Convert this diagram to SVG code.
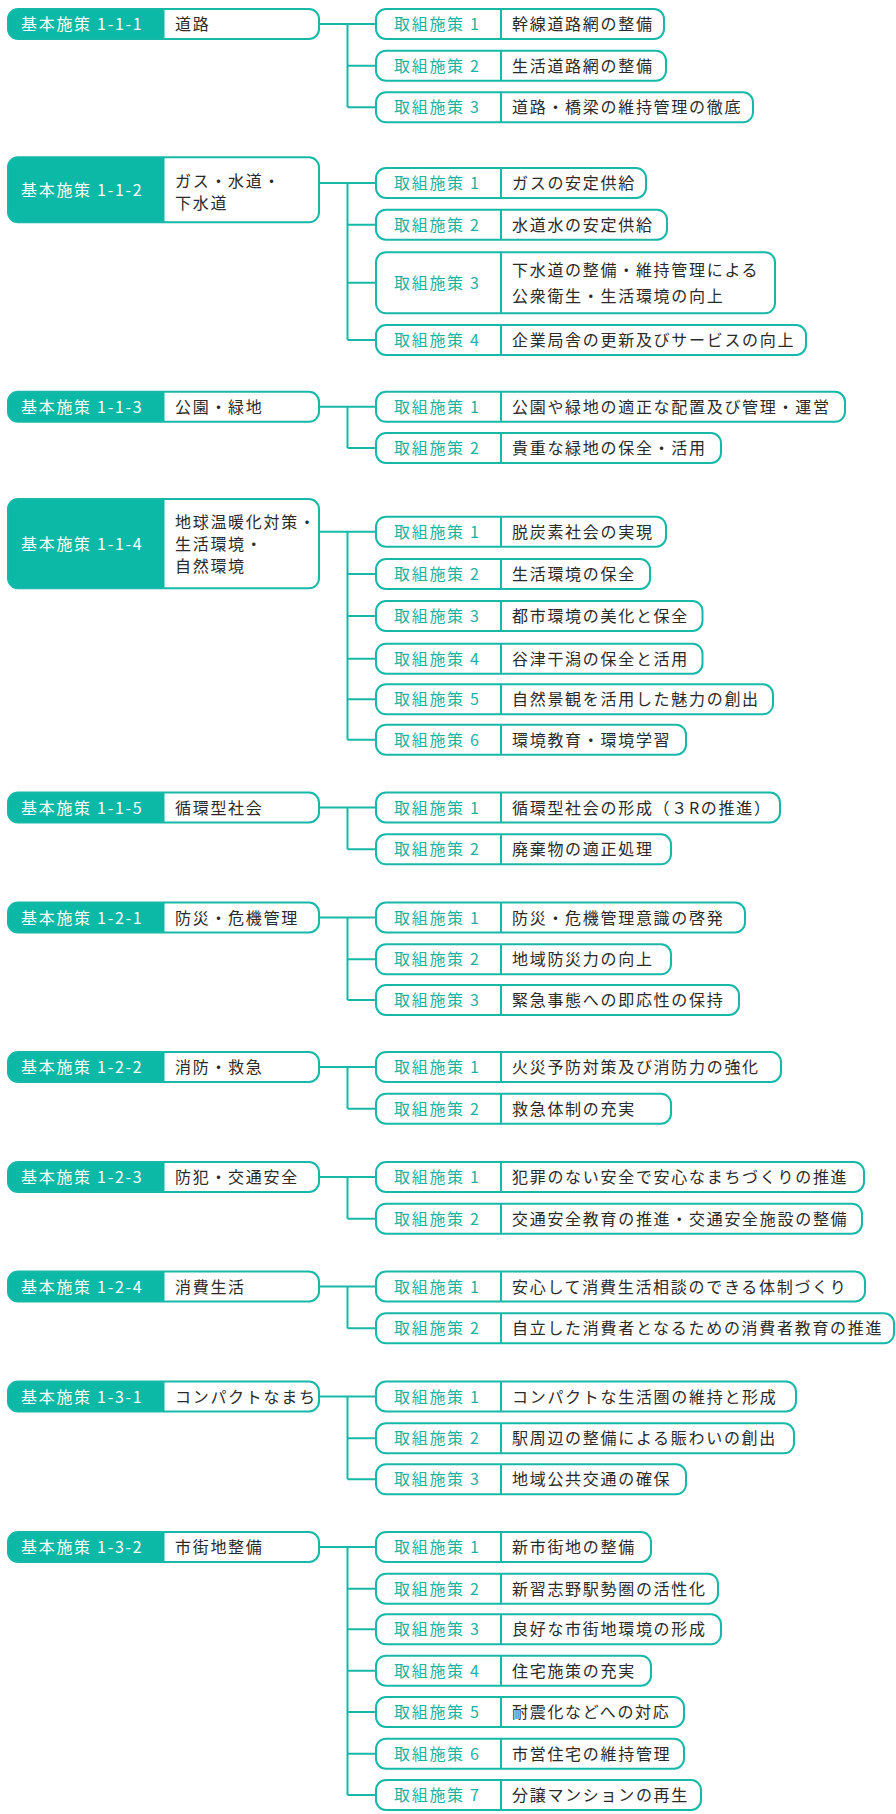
<svg xmlns="http://www.w3.org/2000/svg" width="896" height="1814" viewBox="0 0 896 1814">
<style>
text{font-family:"Noto Sans CJK JP","Noto Sans",sans-serif;font-size:16px;letter-spacing:1.7px}
.pb{fill:#fff}
.po{fill:none;stroke:#16b9a8;stroke-width:2}
.pf{fill:#0cb8a6}
.pl{fill:#fff}
.pt{fill:#2a2a2a}
.cb{fill:#fff;stroke:#16b9a8;stroke-width:2}
.dv{stroke:#16b9a8;stroke-width:2}
.cl{fill:#1ab3a3}
.ct{fill:#2a2a2a}
.cn{fill:none;stroke:#16b9a8;stroke-width:2}
</style>
<g id="connectors" class="cn">
<path d="M319,24H376M347.5,24V107.3M347.5,65.7H376M347.5,107.3H376"/>
<path d="M319,183H376M347.5,183V340M347.5,224.7H376M347.5,282.8H376M347.5,340H376"/>
<path d="M319,406.8H376M347.5,406.8V448M347.5,448H376"/>
<path d="M319,531.7H376M347.5,531.7V739.7M347.5,574H376M347.5,616H376M347.5,658.7H376M347.5,699.3H376M347.5,739.7H376"/>
<path d="M319,807.5H376M347.5,807.5V849.3M347.5,849.3H376"/>
<path d="M319,917.5H376M347.5,917.5V1000M347.5,959.3H376M347.5,1000H376"/>
<path d="M319,1067H376M347.5,1067V1108.7M347.5,1108.7H376"/>
<path d="M319,1177H376M347.5,1177V1218.7M347.5,1218.7H376"/>
<path d="M319,1286.5H376M347.5,1286.5V1328.3M347.5,1328.3H376"/>
<path d="M319,1396.5H376M347.5,1396.5V1479.3M347.5,1438.3H376M347.5,1479.3H376"/>
<path d="M319,1547H376M347.5,1547V1795M347.5,1588.7H376M347.5,1629.3H376M347.5,1670.7H376M347.5,1712H376M347.5,1753.7H376M347.5,1795H376"/>
</g>

<!-- parents -->
<g id="p-1-1-1"><rect class="pb" x="8" y="9" width="311" height="30" rx="10"/><path class="pf" d="M164.5,9H18A10,10 0 0 0 8,19V29A10,10 0 0 0 18,39H164.5Z"/><rect class="po" x="8" y="9" width="311" height="30" rx="10"/><text class="pl" x="21" y="30">基本施策 1-1-1</text><text class="pt" x="175" y="30">道路</text></g>

<g id="p-1-1-2"><rect class="pb" x="8" y="157.3" width="311" height="65" rx="10"/><path class="pf" d="M164.5,157.3H18A10,10 0 0 0 8,167.3V212.3A10,10 0 0 0 18,222.3H164.5Z"/><rect class="po" x="8" y="157.3" width="311" height="65" rx="10"/><text class="pl" x="21" y="196">基本施策 1-1-2</text><text class="pt" x="175" y="186.5">ガス・水道・</text><text class="pt" x="175" y="208.8">下水道</text></g>

<g id="p-1-1-3"><rect class="pb" x="8" y="391.8" width="311" height="30" rx="10"/><path class="pf" d="M164.5,391.8H18A10,10 0 0 0 8,401.8V411.8A10,10 0 0 0 18,421.8H164.5Z"/><rect class="po" x="8" y="391.8" width="311" height="30" rx="10"/><text class="pl" x="21" y="412.8">基本施策 1-1-3</text><text class="pt" x="175" y="412.8">公園・緑地</text></g>

<g id="p-1-1-4"><rect class="pb" x="8" y="499" width="311" height="89.3" rx="10"/><path class="pf" d="M164.5,499H18A10,10 0 0 0 8,509V578.3A10,10 0 0 0 18,588.3H164.5Z"/><rect class="po" x="8" y="499" width="311" height="89.3" rx="10"/><text class="pl" x="21" y="550">基本施策 1-1-4</text><text class="pt" x="175" y="527.7">地球温暖化対策・</text><text class="pt" x="175" y="550">生活環境・</text><text class="pt" x="175" y="572">自然環境</text></g>

<g id="p-1-1-5"><rect class="pb" x="8" y="792.5" width="311" height="30" rx="10"/><path class="pf" d="M164.5,792.5H18A10,10 0 0 0 8,802.5V812.5A10,10 0 0 0 18,822.5H164.5Z"/><rect class="po" x="8" y="792.5" width="311" height="30" rx="10"/><text class="pl" x="21" y="813.5">基本施策 1-1-5</text><text class="pt" x="175" y="813.5">循環型社会</text></g>

<g id="p-1-2-1"><rect class="pb" x="8" y="902.5" width="311" height="30" rx="10"/><path class="pf" d="M164.5,902.5H18A10,10 0 0 0 8,912.5V922.5A10,10 0 0 0 18,932.5H164.5Z"/><rect class="po" x="8" y="902.5" width="311" height="30" rx="10"/><text class="pl" x="21" y="923.5">基本施策 1-2-1</text><text class="pt" x="175" y="923.5">防災・危機管理</text></g>

<g id="p-1-2-2"><rect class="pb" x="8" y="1052" width="311" height="30" rx="10"/><path class="pf" d="M164.5,1052H18A10,10 0 0 0 8,1062V1072A10,10 0 0 0 18,1082H164.5Z"/><rect class="po" x="8" y="1052" width="311" height="30" rx="10"/><text class="pl" x="21" y="1073">基本施策 1-2-2</text><text class="pt" x="175" y="1073">消防・救急</text></g>

<g id="p-1-2-3"><rect class="pb" x="8" y="1162" width="311" height="30" rx="10"/><path class="pf" d="M164.5,1162H18A10,10 0 0 0 8,1172V1182A10,10 0 0 0 18,1192H164.5Z"/><rect class="po" x="8" y="1162" width="311" height="30" rx="10"/><text class="pl" x="21" y="1183">基本施策 1-2-3</text><text class="pt" x="175" y="1183">防犯・交通安全</text></g>

<g id="p-1-2-4"><rect class="pb" x="8" y="1271.5" width="311" height="30" rx="10"/><path class="pf" d="M164.5,1271.5H18A10,10 0 0 0 8,1281.5V1291.5A10,10 0 0 0 18,1301.5H164.5Z"/><rect class="po" x="8" y="1271.5" width="311" height="30" rx="10"/><text class="pl" x="21" y="1292.5">基本施策 1-2-4</text><text class="pt" x="175" y="1292.5">消費生活</text></g>

<g id="p-1-3-1"><rect class="pb" x="8" y="1381.5" width="311" height="30" rx="10"/><path class="pf" d="M164.5,1381.5H18A10,10 0 0 0 8,1391.5V1401.5A10,10 0 0 0 18,1411.5H164.5Z"/><rect class="po" x="8" y="1381.5" width="311" height="30" rx="10"/><text class="pl" x="21" y="1402.5">基本施策 1-3-1</text><text class="pt" x="175" y="1402.5">コンパクトなまち</text></g>

<g id="p-1-3-2"><rect class="pb" x="8" y="1532" width="311" height="30" rx="10"/><path class="pf" d="M164.5,1532H18A10,10 0 0 0 8,1542V1552A10,10 0 0 0 18,1562H164.5Z"/><rect class="po" x="8" y="1532" width="311" height="30" rx="10"/><text class="pl" x="21" y="1553">基本施策 1-3-2</text><text class="pt" x="175" y="1553">市街地整備</text></g>

<!-- children -->
<g id="c-1-1-1-1"><rect class="cb" x="376" y="9" width="288" height="30" rx="10"/><path class="dv" d="M501,9V39"/><text class="cl" x="394" y="30">取組施策 1</text><text class="ct" x="512" y="30">幹線道路網の整備</text></g>
<g id="c-1-1-1-2"><rect class="cb" x="376" y="50.7" width="290" height="30" rx="10"/><path class="dv" d="M501,50.7V80.7"/><text class="cl" x="394" y="71.7">取組施策 2</text><text class="ct" x="512" y="71.7">生活道路網の整備</text></g>
<g id="c-1-1-1-3"><rect class="cb" x="376" y="92.3" width="377" height="30" rx="10"/><path class="dv" d="M501,92.3V122.3"/><text class="cl" x="394" y="113.3">取組施策 3</text><text class="ct" x="512" y="113.3">道路・橋梁の維持管理の徹底</text></g>

<g id="c-1-1-2-1"><rect class="cb" x="376" y="168" width="270" height="30" rx="10"/><path class="dv" d="M501,168V198"/><text class="cl" x="394" y="189">取組施策 1</text><text class="ct" x="512" y="189">ガスの安定供給</text></g>
<g id="c-1-1-2-2"><rect class="cb" x="376" y="209.7" width="291" height="30" rx="10"/><path class="dv" d="M501,209.7V239.7"/><text class="cl" x="394" y="230.7">取組施策 2</text><text class="ct" x="512" y="230.7">水道水の安定供給</text></g>
<g id="c-1-1-2-3"><rect class="cb" x="376" y="252.3" width="399" height="61" rx="10"/><path class="dv" d="M501,252.3V313.3"/><text class="cl" x="394" y="288.8">取組施策 3</text><text class="ct" x="512" y="276">下水道の整備・維持管理による</text><text class="ct" x="512" y="301.7">公衆衛生・生活環境の向上</text></g>
<g id="c-1-1-2-4"><rect class="cb" x="376" y="325" width="430" height="30" rx="10"/><path class="dv" d="M501,325V355"/><text class="cl" x="394" y="346">取組施策 4</text><text class="ct" x="512" y="346">企業局舎の更新及びサービスの向上</text></g>

<g id="c-1-1-3-1"><rect class="cb" x="376" y="391.8" width="469" height="30" rx="10"/><path class="dv" d="M501,391.8V421.8"/><text class="cl" x="394" y="412.8">取組施策 1</text><text class="ct" x="512" y="412.8">公園や緑地の適正な配置及び管理・運営</text></g>
<g id="c-1-1-3-2"><rect class="cb" x="376" y="433" width="345" height="30" rx="10"/><path class="dv" d="M501,433V463"/><text class="cl" x="394" y="454">取組施策 2</text><text class="ct" x="512" y="454">貴重な緑地の保全・活用</text></g>

<g id="c-1-1-4-1"><rect class="cb" x="376" y="516.7" width="290" height="30" rx="10"/><path class="dv" d="M501,516.7V546.7"/><text class="cl" x="394" y="537.7">取組施策 1</text><text class="ct" x="512" y="537.7">脱炭素社会の実現</text></g>
<g id="c-1-1-4-2"><rect class="cb" x="376" y="559" width="274" height="30" rx="10"/><path class="dv" d="M501,559V589"/><text class="cl" x="394" y="580">取組施策 2</text><text class="ct" x="512" y="580">生活環境の保全</text></g>
<g id="c-1-1-4-3"><rect class="cb" x="376" y="601" width="326.5" height="30" rx="10"/><path class="dv" d="M501,601V631"/><text class="cl" x="394" y="622">取組施策 3</text><text class="ct" x="512" y="622">都市環境の美化と保全</text></g>
<g id="c-1-1-4-4"><rect class="cb" x="376" y="643.7" width="326.5" height="30" rx="10"/><path class="dv" d="M501,643.7V673.7"/><text class="cl" x="394" y="664.7">取組施策 4</text><text class="ct" x="512" y="664.7">谷津干潟の保全と活用</text></g>
<g id="c-1-1-4-5"><rect class="cb" x="376" y="684.3" width="397" height="30" rx="10"/><path class="dv" d="M501,684.3V714.3"/><text class="cl" x="394" y="705.3">取組施策 5</text><text class="ct" x="512" y="705.3">自然景観を活用した魅力の創出</text></g>
<g id="c-1-1-4-6"><rect class="cb" x="376" y="724.7" width="310" height="30" rx="10"/><path class="dv" d="M501,724.7V754.7"/><text class="cl" x="394" y="745.7">取組施策 6</text><text class="ct" x="512" y="745.7">環境教育・環境学習</text></g>

<g id="c-1-1-5-1"><rect class="cb" x="376" y="792.5" width="404" height="30" rx="10"/><path class="dv" d="M501,792.5V822.5"/><text class="cl" x="394" y="813.5">取組施策 1</text><text class="ct" x="512" y="813.5">循環型社会の形成（３Rの推進）</text></g>
<g id="c-1-1-5-2"><rect class="cb" x="376" y="834.3" width="295" height="30" rx="10"/><path class="dv" d="M501,834.3V864.3"/><text class="cl" x="394" y="855.3">取組施策 2</text><text class="ct" x="512" y="855.3">廃棄物の適正処理</text></g>

<g id="c-1-2-1-1"><rect class="cb" x="376" y="902.5" width="369" height="30" rx="10"/><path class="dv" d="M501,902.5V932.5"/><text class="cl" x="394" y="923.5">取組施策 1</text><text class="ct" x="512" y="923.5">防災・危機管理意識の啓発</text></g>
<g id="c-1-2-1-2"><rect class="cb" x="376" y="944.3" width="295" height="30" rx="10"/><path class="dv" d="M501,944.3V974.3"/><text class="cl" x="394" y="965.3">取組施策 2</text><text class="ct" x="512" y="965.3">地域防災力の向上</text></g>
<g id="c-1-2-1-3"><rect class="cb" x="376" y="985" width="363" height="30" rx="10"/><path class="dv" d="M501,985V1015"/><text class="cl" x="394" y="1006">取組施策 3</text><text class="ct" x="512" y="1006">緊急事態への即応性の保持</text></g>

<g id="c-1-2-2-1"><rect class="cb" x="376" y="1052" width="405" height="30" rx="10"/><path class="dv" d="M501,1052V1082"/><text class="cl" x="394" y="1073">取組施策 1</text><text class="ct" x="512" y="1073">火災予防対策及び消防力の強化</text></g>
<g id="c-1-2-2-2"><rect class="cb" x="376" y="1093.7" width="295" height="30" rx="10"/><path class="dv" d="M501,1093.7V1123.7"/><text class="cl" x="394" y="1114.7">取組施策 2</text><text class="ct" x="512" y="1114.7">救急体制の充実</text></g>

<g id="c-1-2-3-1"><rect class="cb" x="376" y="1162" width="488" height="30" rx="10"/><path class="dv" d="M501,1162V1192"/><text class="cl" x="394" y="1183">取組施策 1</text><text class="ct" x="512" y="1183">犯罪のない安全で安心なまちづくりの推進</text></g>
<g id="c-1-2-3-2"><rect class="cb" x="376" y="1203.7" width="486" height="30" rx="10"/><path class="dv" d="M501,1203.7V1233.7"/><text class="cl" x="394" y="1224.7">取組施策 2</text><text class="ct" x="512" y="1224.7">交通安全教育の推進・交通安全施設の整備</text></g>

<g id="c-1-2-4-1"><rect class="cb" x="376" y="1271.5" width="489" height="30" rx="10"/><path class="dv" d="M501,1271.5V1301.5"/><text class="cl" x="394" y="1292.5">取組施策 1</text><text class="ct" x="512" y="1292.5">安心して消費生活相談のできる体制づくり</text></g>
<g id="c-1-2-4-2"><rect class="cb" x="376" y="1313.3" width="518" height="30" rx="10"/><path class="dv" d="M501,1313.3V1343.3"/><text class="cl" x="394" y="1334.3">取組施策 2</text><text class="ct" x="512" y="1334.3">自立した消費者となるための消費者教育の推進</text></g>

<g id="c-1-3-1-1"><rect class="cb" x="376" y="1381.5" width="420" height="30" rx="10"/><path class="dv" d="M501,1381.5V1411.5"/><text class="cl" x="394" y="1402.5">取組施策 1</text><text class="ct" x="512" y="1402.5">コンパクトな生活圏の維持と形成</text></g>
<g id="c-1-3-1-2"><rect class="cb" x="376" y="1423.3" width="418" height="30" rx="10"/><path class="dv" d="M501,1423.3V1453.3"/><text class="cl" x="394" y="1444.3">取組施策 2</text><text class="ct" x="512" y="1444.3">駅周辺の整備による賑わいの創出</text></g>
<g id="c-1-3-1-3"><rect class="cb" x="376" y="1464.3" width="310" height="30" rx="10"/><path class="dv" d="M501,1464.3V1494.3"/><text class="cl" x="394" y="1485.3">取組施策 3</text><text class="ct" x="512" y="1485.3">地域公共交通の確保</text></g>

<g id="c-1-3-2-1"><rect class="cb" x="376" y="1532" width="275" height="30" rx="10"/><path class="dv" d="M501,1532V1562"/><text class="cl" x="394" y="1553">取組施策 1</text><text class="ct" x="512" y="1553">新市街地の整備</text></g>
<g id="c-1-3-2-2"><rect class="cb" x="376" y="1573.7" width="342" height="30" rx="10"/><path class="dv" d="M501,1573.7V1603.7"/><text class="cl" x="394" y="1594.7">取組施策 2</text><text class="ct" x="512" y="1594.7">新習志野駅勢圏の活性化</text></g>
<g id="c-1-3-2-3"><rect class="cb" x="376" y="1614.3" width="345" height="30" rx="10"/><path class="dv" d="M501,1614.3V1644.3"/><text class="cl" x="394" y="1635.3">取組施策 3</text><text class="ct" x="512" y="1635.3">良好な市街地環境の形成</text></g>
<g id="c-1-3-2-4"><rect class="cb" x="376" y="1655.7" width="275" height="30" rx="10"/><path class="dv" d="M501,1655.7V1685.7"/><text class="cl" x="394" y="1676.7">取組施策 4</text><text class="ct" x="512" y="1676.7">住宅施策の充実</text></g>
<g id="c-1-3-2-5"><rect class="cb" x="376" y="1697" width="308" height="30" rx="10"/><path class="dv" d="M501,1697V1727"/><text class="cl" x="394" y="1718">取組施策 5</text><text class="ct" x="512" y="1718">耐震化などへの対応</text></g>
<g id="c-1-3-2-6"><rect class="cb" x="376" y="1738.7" width="308" height="30" rx="10"/><path class="dv" d="M501,1738.7V1768.7"/><text class="cl" x="394" y="1759.7">取組施策 6</text><text class="ct" x="512" y="1759.7">市営住宅の維持管理</text></g>
<g id="c-1-3-2-7"><rect class="cb" x="376" y="1780" width="325" height="30" rx="10"/><path class="dv" d="M501,1780V1810"/><text class="cl" x="394" y="1801">取組施策 7</text><text class="ct" x="512" y="1801">分譲マンションの再生</text></g>
</svg>
